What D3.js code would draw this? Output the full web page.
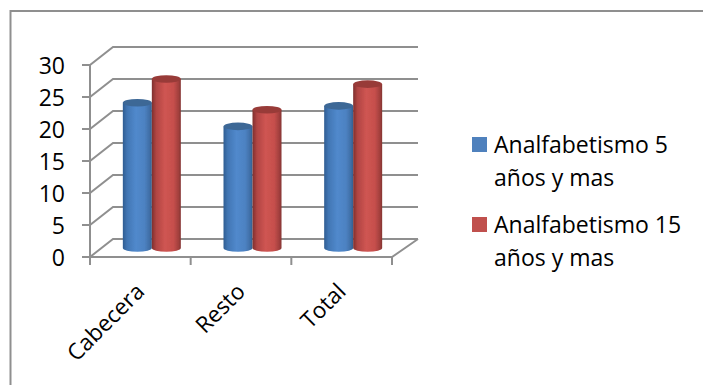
<!DOCTYPE html>
<html><head><meta charset="utf-8">
<script src="https://cdn.jsdelivr.net/npm/d3@7/dist/d3.min.js"></script>
<style>html,body{margin:0;padding:0;background:#fff}svg{display:block}text{font-family:"Open Sans",sans-serif;fill:#000}</style>
</head><body><svg id="c" width="703" height="385"></svg>
<script>
const categories = ["Cabecera", "Resto", "Total"];
const seriesNames = [["Analfabetismo 5", "años y mas"], ["Analfabetismo 15", "años y mas"]];
const series5 = [22.7, 19.0, 22.2];
const series15 = [26.4, 21.6, 25.6];
const yTicks = [0, 5, 10, 15, 20, 25, 30];

const svg = d3.select("#c");
const gridC = "#8f8f8f", W = 29, ry = 3.8;
const y = d3.scaleLinear().domain([0, 30]).range([257, 65]);
const x = d3.scaleBand().domain(categories).range([90, 392]);
const depth = {x: 23, y: -18}, backRight = 418;

const defs = svg.append("defs");
function grad(id, stops) {
  const g = defs.append("linearGradient").attr("id", id);
  stops.forEach(([o, c]) => g.append("stop").attr("offset", o).attr("stop-color", c));
}
grad("gb", [[0, "#2f5d92"], [.15, "#4176b4"], [.45, "#5189cc"], [.75, "#4d82c2"], [.92, "#3f6ea6"], [1, "#33608f"]]);
grad("gr", [[0, "#7e2f2d"], [.15, "#b04543"], [.45, "#cf5552"], [.75, "#c64f4c"], [.92, "#a23f3d"], [1, "#843533"]]);
defs.append("filter").attr("id", "soft").append("feGaussianBlur").attr("stdDeviation", 0.45);

// outer frame
svg.append("path").attr("d", "M10.5,385V11H703").attr("fill", "none").attr("stroke", gridC).attr("stroke-width", 2);

// walls and axes
const g = svg.append("g").attr("fill", "none").attr("stroke", gridC).attr("stroke-width", 2).attr("filter", "url(#soft)");
yTicks.forEach(t => {
  const v = y(t);
  g.append("path").attr("d", `M82,${v}H90L${90 + depth.x},${v + depth.y}H${backRight}`);
});
g.append("path").attr("d", `M90,${y(30)}V${y(0) + 8}`);
g.append("path").attr("d", `M90,${y(0)}H392L${backRight},${y(0) + depth.y}`);
x.domain().concat(["end"]).forEach((c, i) => {
  const px = c === "end" ? x.range()[1] : x(c);
  g.append("path").attr("d", `M${px},${y(0)}V${y(0) + 8}`);
});

// cylinders
const barG = svg.append("g").attr("filter", "url(#soft)");
function cylinder(cx, value, fill, top) {
  const base = y(0) + depth.y / 2, topY = y(value) + depth.y / 2;
  barG.append("path")
    .attr("d", `M${cx},${topY}V${base}A${W / 2},${ry} 0 0 0 ${cx + W},${base}V${topY}Z`)
    .attr("fill", fill);
  barG.append("ellipse").attr("cx", cx + W / 2).attr("cy", topY)
    .attr("rx", W / 2).attr("ry", ry).attr("fill", top);
}
categories.forEach((c, i) => {
  const mid = x(c) + x.bandwidth() / 2 + depth.x / 2;
  cylinder(mid - W, series5[i], "url(#gb)", "#3c6796");
  cylinder(mid, series15[i], "url(#gr)", "#983b39");
});

// tick labels
svg.append("g").selectAll("text").data(yTicks).join("text")
  .attr("x", 65).attr("y", d => y(d) + 9)
  .attr("text-anchor", "end").attr("font-size", 23).text(d => d);

svg.append("g").selectAll("text").data(categories).join("text")
  .attr("transform", d => `translate(${x(d) + x.bandwidth() / 2 + 5.5},293) rotate(-45)`)
  .attr("text-anchor", "end").attr("font-size", 22.5).text(d => d);

// legend
const legendColors = ["#4f81bd", "#c0504d"];
const legendTop = [137, 217];
seriesNames.forEach((lines, i) => {
  svg.append("rect").attr("x", 472).attr("y", legendTop[i]).attr("width", 15).attr("height", 15).attr("fill", legendColors[i]);
  lines.forEach((l, k) => svg.append("text").attr("x", 494).attr("y", legendTop[i] + 16 + k * 33)
    .attr("font-size", 23).text(l));
});
</script></body></html>
